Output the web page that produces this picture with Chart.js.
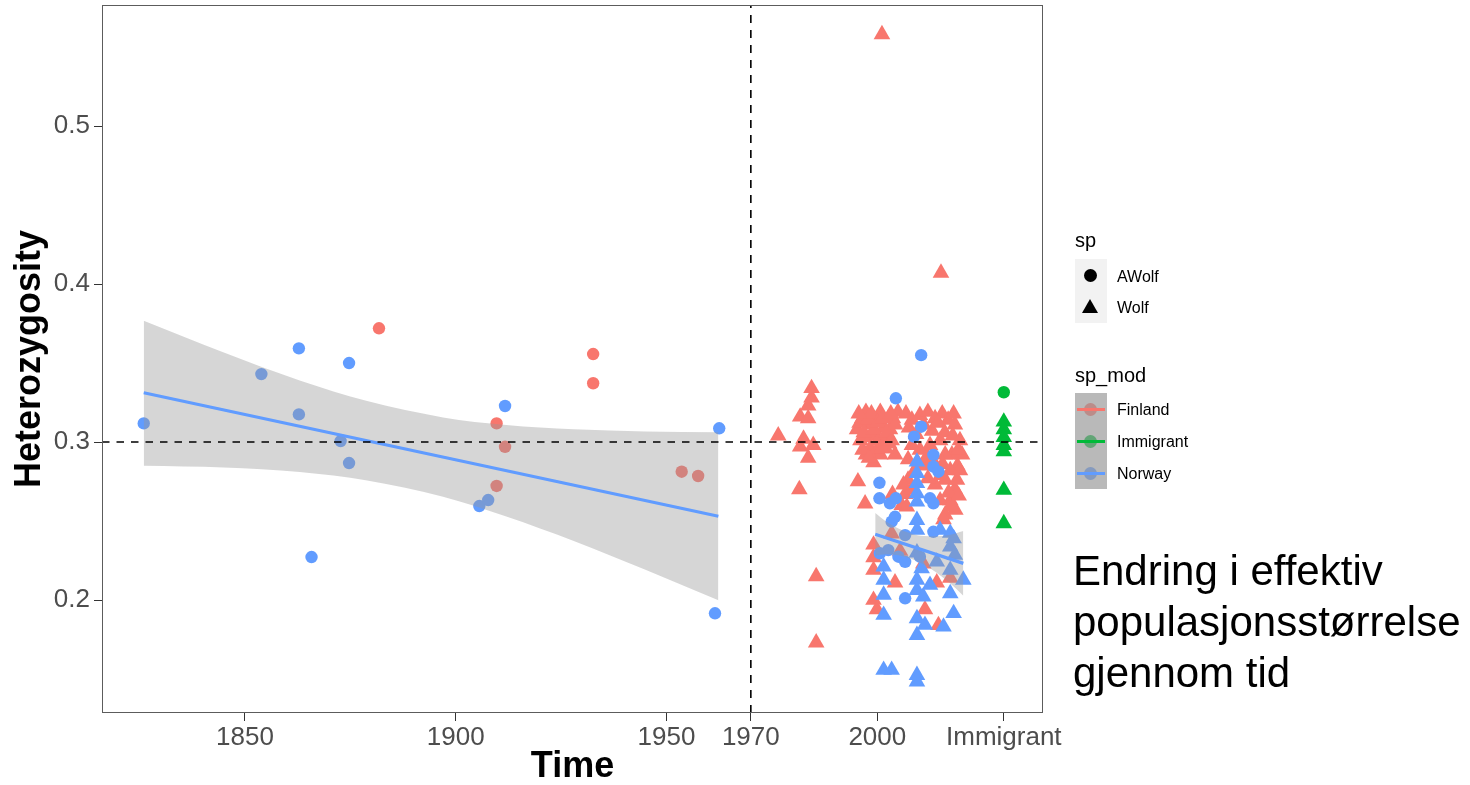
<!DOCTYPE html>
<html>
<head>
<meta charset="utf-8">
<title>Heterozygosity over time</title>
<script src="https://cdn.jsdelivr.net/npm/chart.js@4.4.1/dist/chart.umd.min.js"></script>
<style>
  html, body { margin: 0; padding: 0; background: #fff; }
  body { width: 1470px; height: 785px; position: relative; overflow: hidden;
         font-family: "Liberation Sans", Arial, Helvetica, sans-serif; }
  #c { position: absolute; left: 0; top: 0; }
  .abs { position: absolute; white-space: nowrap; color: #000; }
  .ttl { font-size: 20px; line-height: 20px; }
  .itm { font-size: 16px; line-height: 16px; }
  .key { position: absolute; left: 1075px; width: 32px; }
  .dot { position: absolute; width: 13px; height: 13px; border-radius: 50%; }
  .tri { position: absolute; width: 0; height: 0; border-left: 8.5px solid transparent;
         border-right: 8.5px solid transparent; border-bottom: 14.5px solid #000; }
  .bar { position: absolute; left: 1077px; width: 28px; height: 3px; }
  #note { position: absolute; left: 1073px; top: 545px; font-size: 42px; line-height: 51px; color: #000; }
</style>
</head>
<body>
<canvas id="c" width="1110" height="785" style="width:1110px;height:785px"></canvas>

<!-- legend: sp -->
<div class="abs ttl" style="left:1075px;top:230px">sp</div>
<div class="key" style="top:259px;height:64px;background:#f2f2f2"></div>
<div class="dot" style="left:1083.5px;top:269px;background:#000"></div>
<div class="tri" style="left:1081.5px;top:299px"></div>
<div class="abs itm" style="left:1117px;top:269px">AWolf</div>
<div class="abs itm" style="left:1117px;top:300px">Wolf</div>

<!-- legend: sp_mod -->
<div class="abs ttl" style="left:1075px;top:365px">sp_mod</div>
<div class="key" style="top:393px;height:96px;background:#b9b9b9"></div>
<div class="dot" style="left:1083.5px;top:403px;background:#bb8c89"></div>
<div class="bar" style="top:408px;background:#F8766D"></div>
<div class="dot" style="left:1083.5px;top:435px;background:#62a576"></div>
<div class="bar" style="top:440px;background:#00BA38"></div>
<div class="dot" style="left:1083.5px;top:467px;background:#859abe"></div>
<div class="bar" style="top:472px;background:#619CFF"></div>
<div class="abs itm" style="left:1117px;top:402px">Finland</div>
<div class="abs itm" style="left:1117px;top:434px">Immigrant</div>
<div class="abs itm" style="left:1117px;top:466px">Norway</div>

<div id="note">Endring i effektiv<br>populasjonsstørrelse<br>gjennom tid</div>

<script>
// axis setup (Immigrant samples are placed at 2030 on the time axis)
const xTickValues = [1850, 1900, 1950, 1970, 2000, 2030];
const xTickLabels = ['1850', '1900', '1950', '1970', '2000', 'Immigrant'];
const yTickValues = [0.2, 0.3, 0.4, 0.5];
const xRange = [1816.1, 2039.3];
const yRange = [0.1285, 0.5766];
const refHet = 0.3;
const breakYear = 1970;

// AWolf = circles, [year, heterozygosity]
const awolfFinland = [
  [1881.8, 0.372], [1909.7, 0.3118], [1909.7, 0.2722], [1911.7, 0.297],
  [1932.6, 0.3557], [1932.6, 0.3372], [1953.6, 0.2812], [1957.5, 0.2785]
];
const awolfNorway = [
  [1826.0, 0.3118], [1853.9, 0.343], [1862.8, 0.3593], [1862.8, 0.3175], [1865.8, 0.2272],
  [1872.7, 0.3006], [1874.7, 0.350], [1874.7, 0.2867], [1905.6, 0.2595], [1907.7, 0.2633],
  [1911.7, 0.3228], [1961.5, 0.1916], [1962.5, 0.3087],
  [2000.5, 0.2742], [2000.5, 0.2644], [2000.6, 0.2296], [2002.6, 0.2316], [2003.0, 0.2612],
  [2003.4, 0.2496], [2004.2, 0.2527], [2004.4, 0.3277], [2004.4, 0.2644], [2005.0, 0.2274],
  [2006.6, 0.2411], [2006.6, 0.2242], [2006.6, 0.2011], [2008.7, 0.3034], [2010.1, 0.2274],
  [2010.4, 0.355], [2010.4, 0.3097], [2012.5, 0.2644], [2013.3, 0.2918], [2013.3, 0.2844],
  [2013.3, 0.2612], [2013.3, 0.2432], [2014.5, 0.2812]
];
const awolfImmigrant = [[2030, 0.3315]];

// Wolf = triangles
const wolfFinland = [
  [1976.5, 0.304], [1981.7, 0.316], [1983.6, 0.315], [1983.6, 0.323], [1984.4, 0.328],
  [1984.4, 0.334], [1982.5, 0.302], [1981.7, 0.297], [1984.8, 0.298], [1983.6, 0.290],
  [1981.5, 0.270], [1985.5, 0.215], [1985.5, 0.173],
  [2001.1, 0.558], [2015.1, 0.407],
  [1995.2, 0.308], [1996.0, 0.301], [1996.4, 0.315], [1997.1, 0.303], [1997.3, 0.319],
  [1998.3, 0.311], [1998.8, 0.304], [1999.7, 0.314], [2000.2, 0.301], [2000.7, 0.319],
  [2001.6, 0.309], [2001.8, 0.301], [2002.6, 0.315], [2003.0, 0.308], [2003.7, 0.315],
  [2004.2, 0.311], [2004.9, 0.319], [1998.3, 0.296], [1999.7, 0.294], [2000.7, 0.292],
  [2004.2, 0.292], [1997.3, 0.292], [1999.1, 0.287], [2002.0, 0.296],
  [1995.8, 0.312], [1996.8, 0.306], [1997.8, 0.314], [1998.6, 0.318], [1999.2, 0.308],
  [2000.0, 0.312], [2001.2, 0.315], [2002.2, 0.306], [2003.2, 0.318], [2002.8, 0.299],
  [1996.5, 0.295], [1998.0, 0.290], [2001.0, 0.296], [2003.4, 0.301], [1995.6, 0.318],
  [2006.8, 0.318], [2008.2, 0.314], [2010.1, 0.317], [2012.0, 0.319], [2013.7, 0.315],
  [2015.4, 0.318], [2016.8, 0.314], [2018.4, 0.311], [2019.6, 0.301], [2020.1, 0.292],
  [2019.0, 0.285], [2017.3, 0.282], [2016.1, 0.276], [2018.4, 0.270], [2017.3, 0.263],
  [2016.1, 0.254], [2014.9, 0.301], [2012.5, 0.298], [2010.1, 0.295], [2008.2, 0.298],
  [2007.3, 0.289], [2011.3, 0.285], [2013.7, 0.273], [2012.0, 0.277], [2007.3, 0.276],
  [2006.6, 0.267], [2008.2, 0.270], [2008.9, 0.282], [2017.7, 0.292], [2016.1, 0.292],
  [2019.6, 0.282], [2014.9, 0.263],
  [2007.5, 0.309], [2009.2, 0.305], [2011.0, 0.311], [2013.0, 0.307], [2014.4, 0.312],
  [2016.0, 0.306], [2017.9, 0.304], [2019.2, 0.295], [2018.9, 0.276], [2016.9, 0.268],
  [2019.3, 0.266], [2015.5, 0.286], [2011.8, 0.291], [2009.8, 0.286], [2018.1, 0.318],
  [2013.0, 0.289], [2015.2, 0.279], [2018.5, 0.257],
  [1995.4, 0.275], [1997.1, 0.261], [1999.1, 0.235], [1999.1, 0.227], [1999.1, 0.219],
  [1999.1, 0.200], [1999.9, 0.194], [2003.4, 0.242], [2003.6, 0.267], [2005.4, 0.231],
  [2004.2, 0.211], [2006.2, 0.273], [2005.8, 0.260], [2007.0, 0.259], [2010.9, 0.223],
  [2014.1, 0.211], [2017.3, 0.214], [2011.3, 0.194], [2014.5, 0.184], [2015.7, 0.251],
  [2017.3, 0.259]
];
const wolfNorway = [
  [2009.4, 0.2875], [2009.4, 0.2802], [2009.4, 0.2739], [2009.4, 0.2675], [2009.4, 0.2622],
  [2009.4, 0.2506], [2009.4, 0.2443], [2009.4, 0.2300], [2009.4, 0.2127], [2009.4, 0.2063],
  [2009.4, 0.1884], [2009.4, 0.1778], [2009.4, 0.1525], [2009.4, 0.1483],
  [2018.1, 0.239], [2017.3, 0.2337], [2018.4, 0.2285], [2014.1, 0.2242], [2001.5, 0.2211],
  [2017.3, 0.219], [2001.5, 0.2127], [2012.5, 0.2095], [2020.4, 0.2127], [2001.5, 0.2032],
  [2010.9, 0.2021], [2017.3, 0.2042], [2018.1, 0.1916], [2001.5, 0.1905], [2011.3, 0.1842],
  [2015.7, 0.1831], [2001.5, 0.1557], [2003.4, 0.1557], [2014.9, 0.2443], [2017.3, 0.2424],
  [2010.5, 0.2200]
];
const wolfImmigrant = [
  [2030, 0.3128], [2030, 0.308], [2030, 0.303], [2030, 0.298], [2030, 0.294],
  [2030, 0.2696], [2030, 0.2485]
];

// lm fits for Norway
const fitOldX = [1826.0, 1962.3];
const fitOldY = [0.3312, 0.2530];
const bandOldX = [1826, 1845, 1863, 1879, 1897, 1912, 1928, 1945, 1962.3];
const bandOldHi = [0.3768, 0.3567, 0.3390, 0.3259, 0.3156, 0.3108, 0.3081, 0.3067, 0.3062];
const bandOldLo = [0.2850, 0.2839, 0.2810, 0.2757, 0.2654, 0.2528, 0.2373, 0.2191, 0.1998];
const fitNewX = [1999.5, 2020.4];
const fitNewY = [0.2416, 0.2232];
const bandNewX = [1999.5, 2002, 2005, 2008, 2011, 2014, 2017, 2020.4];
const bandNewHi = [0.2551, 0.2499, 0.2453, 0.2421, 0.2405, 0.2404, 0.2412, 0.2437];
const bandNewLo = [0.2281, 0.2289, 0.2283, 0.2261, 0.2225, 0.2174, 0.2112, 0.2027];

const colFinland = '#F8766D';
const colImmigrant = '#00BA38';
const colNorway = '#619CFF';
const FONT = '"Liberation Sans", Arial, Helvetica, sans-serif';

const pts = (list) => list.map(([x, y]) => ({ x, y }));
const zip = (xs, ys) => xs.map((x, i) => ({ x, y: ys[i] }));

const circle = (data, color, order) => ({
  data: pts(data), pointStyle: 'circle', pointRadius: 6.2, pointBorderWidth: 0,
  backgroundColor: color, borderColor: color, order
});
const triangle = (data, color, order) => ({
  data: pts(data), pointStyle: 'triangle', pointRadius: 9.6, pointBorderWidth: 0,
  backgroundColor: color, borderColor: color, order
});
const lineSet = (data, color, width, dash, order) => ({
  data, showLine: true, borderColor: color, borderWidth: width, borderDash: dash,
  pointRadius: 0, fill: false, order
});
const bandEdge = (data, fill) => ({
  data, showLine: true, borderColor: 'rgba(0,0,0,0)', borderWidth: 1, pointRadius: 0,
  cubicInterpolationMode: 'monotone', fill, backgroundColor: 'rgba(153,153,153,0.4)', order: 2
});

// draws the grey panel border on top
const panelBorder = {
  id: 'panelBorder',
  afterDraw(chart) {
    const { ctx, chartArea: a } = chart;
    ctx.save();
    ctx.strokeStyle = '#5c5c5c';
    ctx.lineWidth = 1;
    ctx.strokeRect(a.left + 0.5, a.top + 0.5, a.right - a.left - 1, a.bottom - a.top - 1);
    ctx.restore();
  }
};

new Chart(document.getElementById('c').getContext('2d'), {
  type: 'scatter',
  data: {
    datasets: [
      lineSet([{ x: xRange[0], y: refHet }, { x: xRange[1], y: refHet }], '#000', 1.6, [7.5, 7], 0),
      lineSet([{ x: breakYear, y: yRange[0] }, { x: breakYear, y: yRange[1] }], '#000', 1.6, [8, 7], 0),
      lineSet(zip(fitOldX, fitOldY), colNorway, 3.2, [], 1),
      lineSet(zip(fitNewX, fitNewY), colNorway, 3.2, [], 1),
      bandEdge(zip(bandOldX, bandOldLo), false),
      bandEdge(zip(bandOldX, bandOldHi), '-1'),
      bandEdge(zip(bandNewX, bandNewLo), false),
      bandEdge(zip(bandNewX, bandNewHi), '-1'),
      circle(awolfImmigrant, colImmigrant, 3),
      triangle(wolfImmigrant, colImmigrant, 3),
      circle(awolfNorway, colNorway, 3),
      triangle(wolfNorway, colNorway, 3),
      circle(awolfFinland, colFinland, 4),
      triangle(wolfFinland, colFinland, 4)
    ]
  },
  options: {
    responsive: false,
    devicePixelRatio: 1,
    animation: false,
    events: [],
    layout: { autoPadding: false, padding: { top: 5, right: 67, bottom: 0, left: 0 } },
    plugins: { legend: { display: false }, tooltip: { enabled: false } },
    scales: {
      x: {
        type: 'linear', min: xRange[0], max: xRange[1],
        afterBuildTicks: (s) => { s.ticks = xTickValues.map(v => ({ value: v })); },
        afterFit: (s) => { s.height = 72; s.paddingLeft = 0; s.paddingRight = 0; },
        ticks: {
          autoSkip: false, maxRotation: 0, padding: 1, color: '#4d4d4d',
          font: { family: FONT, size: 26 },
          callback: (v) => xTickLabels[xTickValues.indexOf(v)]
        },
        grid: { drawOnChartArea: false, drawTicks: true, tickLength: 8, tickColor: '#333', tickWidth: 1 },
        border: { display: false },
        title: {
          display: true, text: 'Time', color: '#000', padding: { top: 0, bottom: 0 },
          font: { family: FONT, size: 36, weight: 'bold', lineHeight: 1 }
        }
      },
      y: {
        type: 'linear', min: yRange[0], max: yRange[1],
        afterBuildTicks: (s) => { s.ticks = yTickValues.map(v => ({ value: v })); },
        afterFit: (s) => { s.width = 102; s.paddingTop = 0; s.paddingBottom = 0; },
        ticks: {
          padding: 4, color: '#4d4d4d', font: { family: FONT, size: 26 },
          callback: (v) => v.toFixed(1)
        },
        grid: { drawOnChartArea: false, drawTicks: true, tickLength: 8, tickColor: '#333', tickWidth: 1 },
        border: { display: false },
        title: {
          display: true, text: 'Heterozygosity', color: '#000', padding: { top: 12, bottom: 0 },
          font: { family: FONT, size: 36, weight: 'bold', lineHeight: 1 }
        }
      }
    }
  },
  plugins: [panelBorder]
});
</script>
</body>
</html>
